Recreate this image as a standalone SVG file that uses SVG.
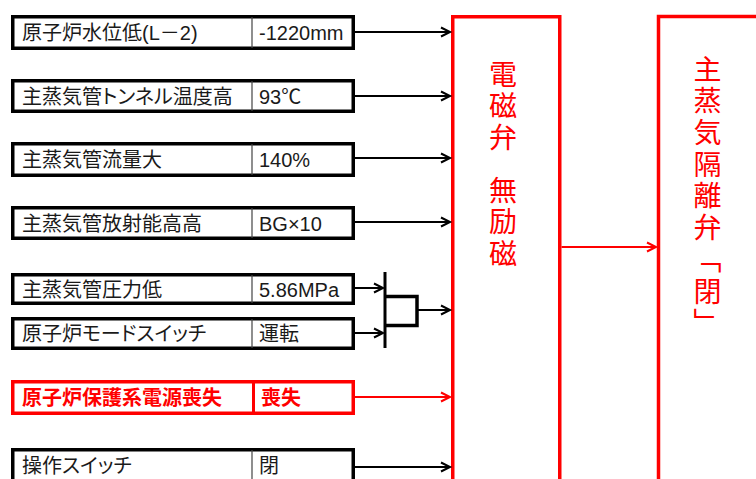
<svg xmlns="http://www.w3.org/2000/svg" width="756" height="479" viewBox="0 0 756 479">
<style>
.box{fill:#fff;stroke:#000;stroke-width:3.5}
.rbox{fill:#fff;stroke:#ff0000;stroke-width:3.5}
.div{stroke:#444;stroke-width:1.2}
.rdiv{stroke:#ff0000;stroke-width:3}
.t{font-family:"Liberation Sans","Noto Sans CJK JP",sans-serif;font-size:20px;fill:#1a1a1a}
.k{font-feature-settings:"palt"}
.rt{font-family:"Liberation Sans","Noto Sans CJK JP",sans-serif;font-size:20px;fill:#ff0000;font-weight:bold}
.vt{font-family:"Noto Sans CJK JP",sans-serif;font-size:28px;fill:#ff0000;writing-mode:vertical-rl}
.c{stroke:#000;stroke-width:2;fill:none}
.rc{stroke:#ff0000;stroke-width:2;fill:none}
.big{fill:none;stroke:#ff0000;stroke-width:3.5}
</style>
<defs>
<marker id="ah" markerUnits="userSpaceOnUse" markerWidth="12" markerHeight="12" refX="10" refY="5" orient="auto" overflow="visible">
<path d="M1,0.5 L10,5 L1,9.5" fill="none" stroke="#000" stroke-width="2"/>
</marker>
<marker id="rah" markerUnits="userSpaceOnUse" markerWidth="12" markerHeight="12" refX="10" refY="5" orient="auto" overflow="visible">
<path d="M1,0.5 L10,5 L1,9.5" fill="none" stroke="#ff0000" stroke-width="2"/>
</marker>
</defs>

<g id="in1">
<rect class="box" x="12.75" y="16.75" width="340.5" height="31.5"/>
<line class="div" x1="252" y1="17" x2="252" y2="48"/>
<text class="t" x="22" y="40">原子炉水位低(L－2)</text>
<text class="t" x="259" y="40">-1220mm</text>
</g>
<g id="in2">
<rect class="box" x="12.75" y="80.75" width="340.5" height="30.5"/>
<line class="div" x1="252" y1="81" x2="252" y2="111"/>
<text class="t k" x="22" y="103.5">主蒸気管トンネル温度高</text>
<text class="t" x="259" y="103.5">93℃</text>
</g>
<g id="in3">
<rect class="box" x="12.75" y="143.75" width="340.5" height="31.5"/>
<line class="div" x1="252" y1="144" x2="252" y2="175"/>
<text class="t" x="22" y="166.5">主蒸気管流量大</text>
<text class="t" x="259" y="166.5">140%</text>
</g>
<g id="in4">
<rect class="box" x="12.75" y="207.75" width="340.5" height="30.5"/>
<line class="div" x1="252" y1="208" x2="252" y2="238"/>
<text class="t" x="22" y="230.5">主蒸気管放射能高高</text>
<text class="t" x="259" y="230.5">BG×10</text>
</g>
<g id="in5">
<rect class="box" x="12.75" y="274.75" width="340.5" height="28.5"/>
<line class="div" x1="252" y1="275" x2="252" y2="303"/>
<text class="t" x="22" y="296.5">主蒸気管圧力低</text>
<text class="t" x="259" y="296.5">5.86MPa</text>
</g>
<g id="in6">
<rect class="box" x="12.75" y="318.75" width="340.5" height="29.5"/>
<line class="div" x1="252" y1="319" x2="252" y2="348"/>
<text class="t k" x="22" y="341">原子炉モードスイッチ</text>
<text class="t" x="259" y="341">運転</text>
</g>
<g id="in7">
<rect class="rbox" x="12.75" y="381.75" width="340.5" height="31.5"/>
<line class="rdiv" x1="253.5" y1="382" x2="253.5" y2="413"/>
<text class="rt" x="22" y="404.5">原子炉保護系電源喪失</text>
<text class="rt" x="261" y="404.5">喪失</text>
</g>
<g id="in8">
<rect class="box" x="12.75" y="449.75" width="340.5" height="31.5"/>
<line class="div" x1="252" y1="450" x2="252" y2="482"/>
<text class="t k" x="22" y="473">操作スイッチ</text>
<text class="t" x="259" y="473">閉</text>
</g>

<g id="and-gate">
<line x1="385" y1="272" x2="385" y2="348" stroke="#000" stroke-width="3"/>
<path d="M385,296.5 H417 V325.5 H385" fill="none" stroke="#000" stroke-width="3.5"/>
</g>

<g id="solenoid">
<rect class="big" x="452.75" y="16.75" width="107" height="500"/>
<text class="vt" x="503" y="60" letter-spacing="3.5">電磁弁</text>
<text class="vt" x="503" y="176" letter-spacing="3.5">無励磁</text>
</g>

<g id="msiv">
<rect class="big" x="658.5" y="16.5" width="200" height="500" stroke-width="3"/>
<text class="vt" x="707.5" y="55" letter-spacing="3.7">主蒸気隔離弁「閉」</text>
</g>

<g id="connectors">
<line class="c" x1="355" y1="32" x2="450" y2="32" marker-end="url(#ah)"/>
<line class="c" x1="355" y1="96" x2="450" y2="96" marker-end="url(#ah)"/>
<line class="c" x1="355" y1="158" x2="450" y2="158" marker-end="url(#ah)"/>
<line class="c" x1="355" y1="222" x2="450" y2="222" marker-end="url(#ah)"/>
<line class="c" x1="355" y1="288" x2="383" y2="288" marker-end="url(#ah)"/>
<line class="c" x1="355" y1="333" x2="383" y2="333" marker-end="url(#ah)"/>
<line class="c" x1="418" y1="310" x2="450" y2="310" marker-end="url(#ah)"/>
<line class="rc" x1="355" y1="397" x2="450" y2="397" marker-end="url(#rah)"/>
<line class="c" x1="355" y1="467" x2="450" y2="467" marker-end="url(#ah)"/>
<line class="rc" x1="561.5" y1="247" x2="656" y2="247" marker-end="url(#rah)"/>
</g>
</svg>
